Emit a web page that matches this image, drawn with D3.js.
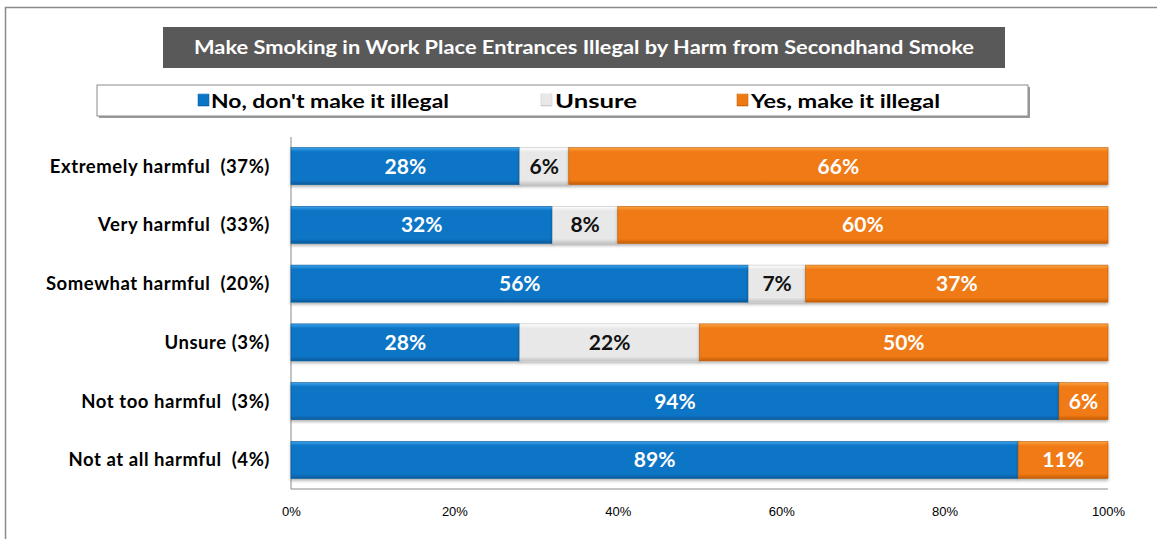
<!DOCTYPE html>
<html><head><meta charset="utf-8">
<script src="https://cdn.jsdelivr.net/npm/d3@7"></script>
<style>body{margin:0;background:#fff}svg{display:block}</style>
</head><body>
<svg id="chart" width="1157" height="539"></svg>
<script>
const title = "Make Smoking in Work Place Entrances Illegal by Harm from Secondhand Smoke";
const categories = ["Extremely harmful  (37%)","Very harmful  (33%)","Somewhat harmful  (20%)","Unsure (3%)","Not too harmful  (3%)","Not at all harmful  (4%)"];
const seriesNames = ["No, don't make it illegal","Unsure","Yes, make it illegal"];
const noValues = [28,32,56,28,94,89];
const unsureValues = [6,8,7,22,0,0];
const yesValues = [66,60,37,50,6,11];
const tickValues = [0,20,40,60,80,100];
const tickLabels = ["0%","20%","40%","60%","80%","100%"];

const colors = [
  {main:"#0a74c6", light:"#3fa2ea", dark:"#075a9a", text:"#fff"},
  {main:"#e8e8e8", light:"#ffffff", dark:"#c4c4c4", text:"#111"},
  {main:"#f07a12", light:"#f9a445", dark:"#c25d08", text:"#fff"}
];
const font = "Lato, 'Open Sans', sans-serif";

const svg = d3.select("#chart");
const defs = svg.append("defs");
colors.forEach((c,i)=>{
  const g = defs.append("linearGradient").attr("id","g"+i).attr("x1",0).attr("x2",0).attr("y1",0).attr("y2",1);
  g.append("stop").attr("offset","0").attr("stop-color",c.light);
  g.append("stop").attr("offset","0.12").attr("stop-color",c.main);
  g.append("stop").attr("offset","0.88").attr("stop-color",c.main);
  g.append("stop").attr("offset","1").attr("stop-color",c.dark);
});
const f = defs.append("filter").attr("id","sh").attr("x","-5%").attr("y","-20%").attr("width","110%").attr("height","160%");
f.append("feDropShadow").attr("dx",0).attr("dy",2).attr("stdDeviation",1.5).attr("flood-color","#000").attr("flood-opacity",0.3);

// outer frame
svg.append("path").attr("d","M5.5,539 L5.5,7.5 L1157,7.5").attr("fill","none").attr("stroke","#8a8a8a").attr("stroke-width",1.5);

// title
svg.append("rect").attr("x",163).attr("y",27).attr("width",842).attr("height",41).attr("fill","#595959");
svg.append("text").attr("x",584).attr("y",54).attr("text-anchor","middle")
  .attr("font-family",font).attr("font-weight","bold").attr("font-size",19).attr("fill","#fff")
  .attr("textLength",780).attr("lengthAdjust","spacingAndGlyphs").text(title);

// legend
svg.append("rect").attr("x",99).attr("y",87).attr("width",931).attr("height",31).attr("fill","#9a9a9a");
svg.append("rect").attr("x",97).attr("y",85).attr("width",931).attr("height",31).attr("fill","#fff").attr("stroke","#8c8c8c").attr("stroke-width",1);
const legX = [[198,211,238],[541,555,82],[737,751,189]];
seriesNames.forEach((n,i)=>{
  svg.append("rect").attr("x",legX[i][0]).attr("y",94).attr("width",11).attr("height",12).attr("fill","url(#g"+i+")").attr("stroke",colors[i].dark).attr("stroke-width",0.5);
  svg.append("text").attr("x",legX[i][1]).attr("y",108).attr("font-family",font).attr("font-weight","bold")
    .attr("font-size",19).attr("fill","#000").attr("textLength",legX[i][2]).attr("lengthAdjust","spacingAndGlyphs").text(n);
});

// scales
const x = d3.scaleLinear().domain([0,100]).range([291,1108]);
const y = d3.scaleBand().domain(categories).range([137,489]).paddingInner(0.37).paddingOuter(0.18);

// axes
svg.append("line").attr("x1",291).attr("x2",291).attr("y1",137).attr("y2",489).attr("stroke","#8a8a8a");
svg.append("line").attr("x1",291).attr("x2",1108).attr("y1",489).attr("y2",489).attr("stroke","#8a8a8a");
const ax = svg.append("g").attr("transform","translate(0,489)")
  .call(d3.axisBottom(x).tickValues(tickValues).tickFormat((d,i)=>tickLabels[i]).tickSize(0).tickPadding(18));
ax.select(".domain").remove();
ax.selectAll("text").attr("font-family","'Liberation Sans', Arial, sans-serif").attr("font-size",13).attr("fill","#000");

// category labels
svg.append("g").selectAll("text").data(categories).join("text")
  .attr("x",270).attr("y",d=>y(d)+y.bandwidth()/2+6.5).attr("text-anchor","end")
  .attr("font-family",font).attr("font-weight","bold").attr("font-size",18.5).attr("letter-spacing",0.55).attr("fill","#000")
  .attr("xml:space","preserve").style("white-space","pre").text(d=>d);

// bars
const series = [noValues, unsureValues, yesValues];
const rows = categories.map((c,ri)=>{
  let acc=0;
  return series.map((s,si)=>{const v=s[ri];const o={cat:c,si,v,x0:acc,x1:acc+v};acc+=v;return o;}).filter(d=>d.v>0);
});
const segs = rows.flat();
const bars = svg.append("g");
bars.selectAll("rect").data(segs).join("rect")
  .attr("x",d=>x(d.x0)).attr("width",d=>x(d.x1)-x(d.x0))
  .attr("y",d=>y(d.cat)).attr("height",y.bandwidth())
  .attr("fill",d=>"url(#g"+d.si+")").attr("filter","url(#sh)")
  .attr("stroke",d=>colors[d.si].dark).attr("stroke-width",0.6);
bars.selectAll("text").data(segs).join("text")
  .attr("x",d=>(x(d.x0)+x(d.x1))/2).attr("y",d=>y(d.cat)+y.bandwidth()/2+7.5)
  .attr("text-anchor","middle").attr("font-family",font).attr("font-weight","bold").attr("font-size",21)
  .attr("fill",d=>colors[d.si].text).text(d=>d.v+"%");
</script>
</body></html>
